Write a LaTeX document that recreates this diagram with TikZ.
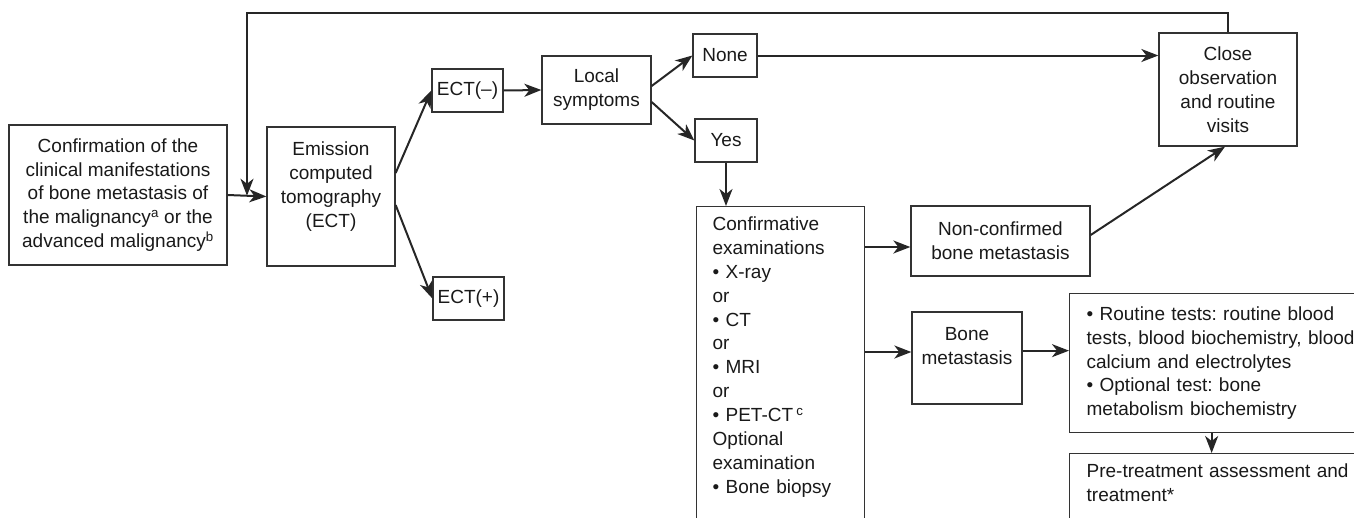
\documentclass[tikz,border=0pt]{standalone}
\usepackage{fontspec}
\setmainfont{Liberation Sans}
\frenchspacing
\usetikzlibrary{arrows.meta,calc}
\tikzset{
  box/.style={rectangle, draw=black!80, line width=1.3pt, align=center, inner sep=3pt,
    text=black!90, font=\fontsize{19}{23.9}\selectfont},
  topbox/.style={box, anchor=north west, align=left, inner ysep=10pt},
  >={Stealth[length=17pt,width=13pt,inset=5pt]}
}
\newcommand{\bmbox}[5] {\node at (#1) (#2) [box, minimum width=#3, minimum height=#4] {#5};}
\newcommand{\bmtopbox}[4] {\node at (#1) (#2) [topbox, #3] {#4};}
\newcommand{\bmtransition}[2] {\draw [->] (#1) -- (#2);}

\begin{document}
\begin{tikzpicture}[x=1pt, y=-1pt, line width=2pt, draw=black!85]
\useasboundingbox (0,0) rectangle (1354,517);
\clip (0,0) rectangle (1354,517);

\bmbox {118,195}{conf}{218pt}{140pt}{Confirmation of the\\clinical manifestations\\of bone metastasis of\\the malignancy\textsuperscript{a} or the\\advanced malignancy\textsuperscript{b}}
\bmbox {331,196.5}{ect}{128pt}{139pt}{Emission\\computed\\tomography\\(ECT)\\\mbox{}}
\coordinate (ectin) at ($(conf.east)!0.5!(ect.west)$);
\bmtransition {conf.east}{ect.west}

\bmbox {467.5,90.5}{ectneg}{71pt}{43pt}{ECT(–)}
\bmbox {468.5,298.5}{ectpos}{71pt}{43pt}{ECT(+)}
\bmtransition {[yshift=23.5pt]ect.east}{ectneg.west}
\bmtransition {[yshift=-8.5pt]ect.east}{ectpos.west}

\bmbox {596.5,90}{local}{109pt}{68pt}{Local\\symptoms}
\bmtransition {ectneg.east}{local.west}

\bmbox {725,55.5}{none}{64pt}{43pt}{None}
\bmbox {726,140.5}{yes}{62pt}{43pt}{Yes}
\bmtransition {[yshift=4pt]local.east}{none.west}
\bmtransition {[yshift=-12pt]local.east}{yes.west}

\bmtopbox {696,206}{exam}{text width=136pt, inner xsep=16pt, text depth=400pt}{Confirmative\\examinations\\• X-ray\\or\\• CT\\or\\• MRI\\or\\• PET-CT\,\textsuperscript{c}\\Optional\\examination\\• Bone biopsy}
\bmtransition {yes.south}{yes.south |- exam.north}

\bmbox {1228,89.5}{close}{138pt}{113pt}{Close\\observation\\and routine\\visits}
\bmtransition {none.east}{none.east -| close.west}
\draw [->] (close.north) -- ++(0,-19) -| (ectin);

\bmbox {1000.5,241}{noncf}{179pt}{70pt}{Non-confirmed\\bone metastasis}
\bmbox {967,358}{bonemet}{110pt}{92pt}{Bone\\metastasis\\\mbox{}}
\coordinate (noncfin) at ([yshift=-6pt]noncf.west);
\coordinate (bonemetin) at ([yshift=6pt]bonemet.west);
\bmtransition {noncfin -| exam.east}{noncfin}
\bmtransition {bonemetin -| exam.east}{bonemetin}
\bmtransition {[yshift=6pt]noncf.east}{[xshift=-3pt]close.south}

\bmtopbox {1069,293}{routine}{text width=280pt, inner xsep=17pt, minimum height=139pt}{• Routine tests: routine blood\\tests, blood biochemistry, blood\\calcium and electrolytes\\• Optional test: bone\\metabolism biochemistry}
\coordinate (routinein) at ([yshift=12.5pt]routine.west);
\bmtransition {routinein -| bonemet.east}{routinein}

\bmtopbox {1069,453}{pretreat}{text width=280pt, inner xsep=17pt, text depth=100pt}{Pre-treatment assessment and\\treatment*}
\bmtransition {[xshift=-15pt]routine.south}{[xshift=-15pt]pretreat.north}

\end{tikzpicture}
\end{document}
